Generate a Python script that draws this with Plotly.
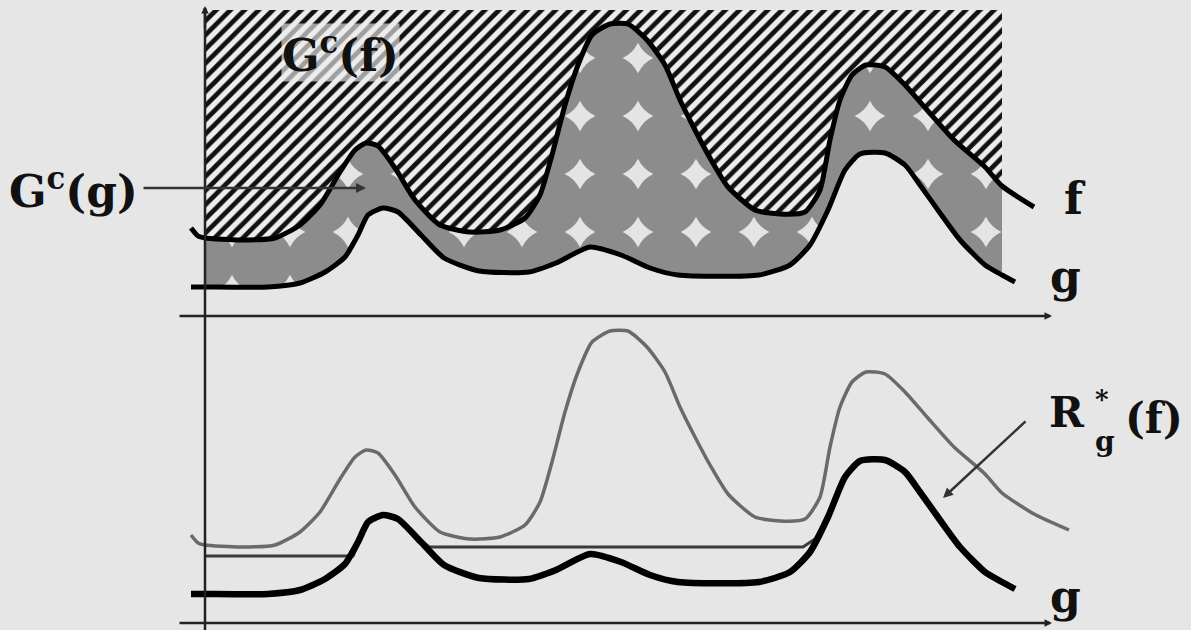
import plotly.graph_objects as go

# abscissa measured from the vertical axis, heights above each panel's x axis
f_x = [-14, -7, 0, 35, 70, 95, 115, 135, 150, 161, 173, 190, 210, 235, 265, 295, 320, 335, 347,
       360, 373, 387, 405, 423, 442, 460, 475, 490, 505, 523, 550, 575, 600, 615, 625, 635, 647,
       661, 680, 700, 722, 749, 780, 797, 829]
f_y = [88, 80, 78, 76, 78, 91, 111, 144, 166, 173, 170, 148, 116, 91, 84, 86, 98, 121, 161,
       211, 251, 281, 292, 292, 276, 251, 216, 186, 158, 129, 106, 102, 104, 126, 176, 216, 241,
       251, 249, 231, 206, 176, 149, 130, 109]
f_tail_x = [864]
f_tail_y = [93]

g_x = [-14, 0, 63, 95, 120, 140, 153, 163, 178, 193, 216, 239, 274, 324, 351, 385, 416, 445,
       473, 554, 585, 605, 623, 640, 655, 680, 700, 715, 735, 755, 780, 797, 810]
g_y = [29, 29, 29, 33, 44, 59, 81, 101, 108, 104, 81, 58, 45, 44, 53, 69, 61, 48,
       41, 41, 51, 71, 106, 146, 162, 163, 151, 131, 103, 76, 51, 41, 34]

# reconstruction R*_g(f)
r_x = [0, 148, 156, 165, 178, 193, 210, 224, 598, 610, 623, 640, 655, 680, 700, 715, 735, 755, 780, 810]
r_y = [67, 67, 85, 102, 109, 105, 88, 76, 76, 84, 106, 146, 162, 163, 151, 131, 103, 76, 51, 34]

HATCH_TOP = 306
X0, X1 = 0, 797

serif = 'DejaVu Serif'


def clip(xs, ys):
    pts = [(x, y) for x, y in zip(xs, ys) if X0 <= x <= X1]
    return [p[0] for p in pts], [p[1] for p in pts]


fcx, fcy = clip(f_x, f_y)
gcx, gcy = clip(g_x, g_y)

smooth = dict(shape='spline', smoothing=0.6)

fig = go.Figure()

# hatched G^c(f)
fig.add_trace(go.Scatter(x=[X0, X1], y=[HATCH_TOP, HATCH_TOP], mode='lines',
                         line=dict(width=0), hoverinfo='skip'))
fig.add_trace(go.Scatter(x=fcx, y=fcy, mode='lines', line=dict(width=0, **smooth),
                         fill='tonexty', fillcolor='#ededed',
                         fillpattern=dict(shape='/', fgcolor='#111111', bgcolor='#ededed',
                                          fgopacity=1, size=10, solidity=0.48),
                         hoverinfo='skip'))
# dotted G^c(g) between g and f
fig.add_trace(go.Scatter(x=gcx, y=gcy, mode='lines', line=dict(width=0, **smooth),
                         hoverinfo='skip'))
fig.add_trace(go.Scatter(x=fcx, y=fcy, mode='lines', line=dict(width=0, **smooth),
                         fill='tonexty', fillcolor='#e4e4e4',
                         fillpattern=dict(shape='.', fgcolor='#8c8c8c', bgcolor='#e4e4e4',
                                          fgopacity=1, size=58, solidity=0.84),
                         hoverinfo='skip'))
fig.add_trace(go.Scatter(x=f_x, y=f_y, mode='lines', line=dict(color='black', width=5, **smooth),
                         hoverinfo='skip'))
fig.add_trace(go.Scatter(x=g_x, y=g_y, mode='lines', line=dict(color='black', width=5, **smooth),
                         hoverinfo='skip'))

# bottom panel
fig.add_trace(go.Scatter(x=f_x + f_tail_x, y=f_y + f_tail_y, mode='lines',
                         line=dict(color='#6a6a6a', width=3.5, **smooth), xaxis='x2', yaxis='y2',
                         hoverinfo='skip'))
fig.add_trace(go.Scatter(x=r_x, y=r_y, mode='lines', line=dict(color='#3a3a3a', width=3),
                         xaxis='x2', yaxis='y2', hoverinfo='skip'))
fig.add_trace(go.Scatter(x=g_x, y=g_y, mode='lines', line=dict(color='black', width=6.5, **smooth),
                         xaxis='x2', yaxis='y2', hoverinfo='skip'))

split = 314 / 630
fig.update_layout(
    width=1191, height=630,
    margin=dict(l=0, r=0, t=0, b=0),
    paper_bgcolor='#e6e6e6', plot_bgcolor='rgba(0,0,0,0)',
    showlegend=False,
    xaxis=dict(range=[-205, 986], domain=[0, 1], visible=False, anchor='y'),
    yaxis=dict(range=[0, 316], domain=[split, 1], visible=False, anchor='x'),
    xaxis2=dict(range=[-205, 986], domain=[0, 1], visible=False, anchor='y2'),
    yaxis2=dict(range=[-7, 307], domain=[0, split], visible=False, anchor='x2'),
)

# axes
fig.add_shape(type='line', xref='x', yref='paper', x0=0, x1=0, y0=0, y1=622 / 630,
              line=dict(color='#222', width=2.5))
ann = []
ann.append(dict(xref='x', yref='paper', x=0, y=624 / 630, ax=0, ay=24,
                showarrow=True, arrowhead=2, arrowsize=0.6, arrowwidth=2.5,
                arrowcolor='#222', text=''))
for yr in ['y', 'y2']:
    xr = 'x' if yr == 'y' else 'x2'
    ann.append(dict(xref=xr, yref=yr, x=847, y=0, ax=-27, ay=0, axref=xr, ayref=yr,
                    showarrow=True, arrowhead=2, arrowsize=0.6, arrowwidth=2.5,
                    arrowcolor='#222', text=''))

# pointer arrows
ann.append(dict(xref='x', yref='y', x=161, y=128, ax=-63, ay=128, axref='x', ayref='y',
                showarrow=True, arrowhead=2, arrowsize=0.8, arrowwidth=2.5,
                arrowcolor='#333', text=''))
ann.append(dict(xref='x2', yref='y2', x=738, y=125, ax=822, ay=203, axref='x2', ayref='y2',
                showarrow=True, arrowhead=2, arrowsize=0.8, arrowwidth=2.5,
                arrowcolor='#333', text=''))


def label(text, x, y, size=44, xref='x', yref='y', bg=None):
    a = dict(xref=xref, yref=yref, x=x, y=y, text='<b>%s</b>' % text, showarrow=False,
             font=dict(family=serif, size=size, color='#111'),
             xanchor='center', yanchor='middle', borderpad=0)
    if bg:
        a['bgcolor'] = bg
    ann.append(a)


label('G<sup>c</sup>(g)', -132, 128)
label('G<sup>c</sup>(f)', 135, 264, bg='rgba(236,236,236,0.65)')
label('f', 870, 118)
label('g', 860, 40)
label('g', 860, 27, yref='y2')
label('R', 862, 211, size=42, xref='x2', yref='y2')
label('*', 897, 224, size=26, xref='x2', yref='y2')
label('g', 900, 182, size=28, xref='x2', yref='y2')
label('(f)', 949, 205, size=42, xref='x2', yref='y2')

fig.update_layout(annotations=ann)
fig.write_html('out.html', config=dict(displayModeBar=False),
               post_script="document.body.style.margin='0';document.body.style.overflow='hidden';")
